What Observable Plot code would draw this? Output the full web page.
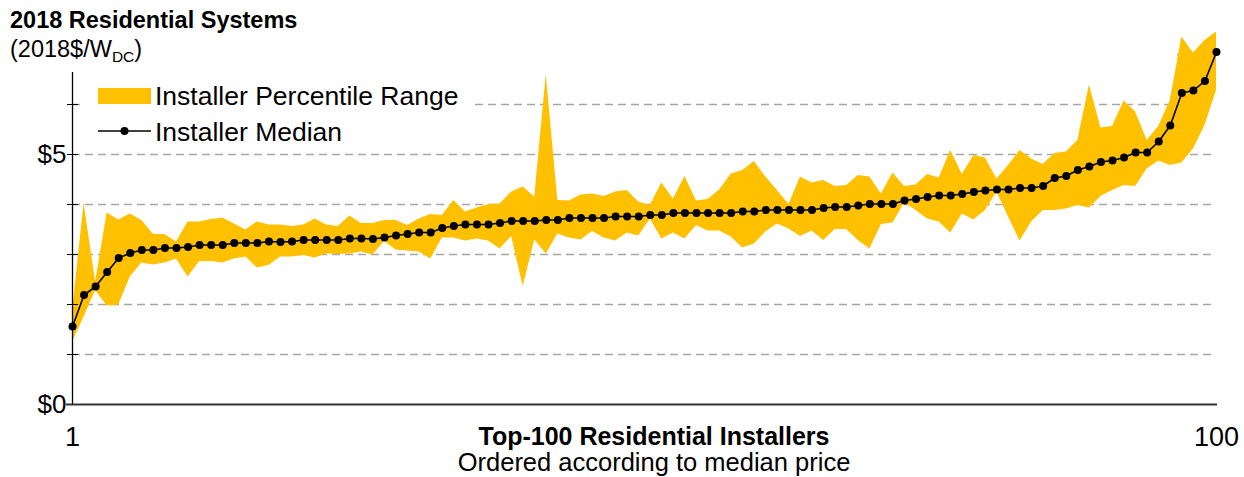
<!DOCTYPE html>
<html>
<head>
<meta charset="utf-8">
<script src="https://cdn.jsdelivr.net/npm/d3@7"></script>
<script src="https://cdn.jsdelivr.net/npm/@observablehq/plot@0.6"></script>
<style>
  html, body { margin: 0; padding: 0; background: #fff; }
  #chart { position: relative; width: 1244px; height: 477px; overflow: hidden; }
  svg { font-family: "Liberation Sans", Arial, sans-serif; }
</style>
</head>
<body>
<div id="chart"></div>
<script>
// ---- Data (2018$/W_DC), installers ordered by median price ----
const installerMedian = [
  1.56, 2.19, 2.36, 2.65, 2.93, 3.03, 3.09, 3.09, 3.13, 3.13,
  3.15, 3.19, 3.19, 3.19, 3.23, 3.23, 3.23, 3.26, 3.25, 3.26,
  3.29, 3.29, 3.29, 3.29, 3.32, 3.32, 3.31, 3.34, 3.38, 3.41,
  3.44, 3.44, 3.53, 3.57, 3.60, 3.60, 3.60, 3.63, 3.67, 3.67,
  3.67, 3.69, 3.69, 3.73, 3.73, 3.73, 3.73, 3.76, 3.76, 3.76,
  3.79, 3.79, 3.83, 3.83, 3.83, 3.83, 3.83, 3.83, 3.86, 3.86,
  3.89, 3.89, 3.89, 3.89, 3.89, 3.93, 3.95, 3.95, 3.98, 4.01,
  4.01, 4.01, 4.08, 4.11, 4.15, 4.18, 4.18, 4.21, 4.25, 4.28,
  4.30, 4.30, 4.33, 4.33, 4.37, 4.53, 4.57, 4.69, 4.76, 4.85,
  4.88, 4.94, 5.04, 5.04, 5.26, 5.58, 6.23, 6.28, 6.47, 7.05
];
const percentileHigh = [
  1.85, 4.03, 2.45, 3.83, 3.69, 3.81, 3.68, 3.40, 3.40, 3.25,
  3.65, 3.65, 3.70, 3.73, 3.61, 3.49, 3.65, 3.59, 3.59, 3.56,
  3.59, 3.71, 3.59, 3.56, 3.77, 3.62, 3.62, 3.68, 3.68, 3.58,
  3.71, 3.80, 3.78, 4.08, 3.85, 3.93, 4.00, 4.01, 4.25, 4.35,
  4.15, 6.60, 4.08, 4.07, 4.19, 4.21, 4.16, 4.25, 4.28, 4.05,
  3.98, 4.43, 4.11, 4.56, 4.07, 4.10, 4.29, 4.61, 4.68, 4.86,
  4.55, 4.28, 4.00, 4.55, 4.43, 4.48, 4.36, 4.38, 4.58, 4.55,
  4.21, 4.63, 4.36, 4.39, 4.60, 4.53, 5.08, 4.60, 4.98, 4.93,
  4.51, 4.78, 5.08, 4.91, 4.80, 5.02, 5.05, 5.28, 6.39, 5.53,
  5.56, 6.07, 5.85, 5.28, 5.56, 6.08, 7.35, 7.03, 7.28, 7.45
];
const percentileLow = [
  1.25, 1.75, 2.28, 1.97, 1.99, 2.55, 2.83, 2.79, 2.83, 2.91,
  2.55, 2.86, 2.86, 2.83, 2.91, 2.95, 2.73, 2.78, 2.95, 2.95,
  2.98, 2.93, 3.01, 3.00, 3.01, 3.05, 2.99, 3.26, 3.09, 3.07,
  3.05, 2.91, 3.33, 3.33, 3.27, 3.31, 3.27, 3.11, 3.36, 2.36,
  3.29, 3.01, 3.41, 3.33, 3.29, 3.46, 3.33, 3.27, 3.43, 3.37,
  3.71, 3.31, 3.43, 3.31, 3.58, 3.47, 3.47, 3.35, 3.13, 3.21,
  3.45, 3.61, 3.51, 3.36, 3.47, 3.28, 3.50, 3.50, 3.28, 3.11,
  3.60, 3.63, 4.03, 3.88, 3.71, 3.65, 3.43, 3.81, 3.69, 3.88,
  4.25, 3.75, 3.27, 3.65, 3.88, 3.88, 3.91, 3.98, 3.93, 4.16,
  4.28, 4.38, 4.36, 4.71, 4.87, 4.78, 4.83, 5.11, 5.58, 6.28
];
const yTickLabels = [0, 5];
const yMinorTicks = [0, 1, 2, 3, 4, 5, 6];
const gridValues = [1, 2, 3, 4, 5, 6, 7];
const xTickLabels = [1, 100];

const rows = installerMedian.map((m, k) => ({
  rank: k + 1, median: m, low: percentileLow[k], high: percentileHigh[k]
}));

// ---- Layout ----
const W = 1244, H = 477;
const mL = 72, mR = 28, mT = 29, mB = 73;
const gold = "#FFC000";
const font = "'Liberation Sans', Arial, sans-serif";

const plot = Plot.plot({
  width: W, height: H,
  marginLeft: mL, marginRight: mR, marginTop: mT, marginBottom: mB,
  style: {fontFamily: font, background: "#fff", overflow: "visible"},
  x: {domain: [1, 100], axis: null},
  y: {domain: [0, 7.5], axis: null},
  marks: [
    Plot.ruleY(gridValues, {stroke: "#a6a6a6", strokeWidth: 1.5, strokeDasharray: "8,5"}),
    Plot.areaY(rows, {x: "rank", y1: "low", y2: "high", fill: gold, curve: "linear"}),
    Plot.line(rows, {x: "rank", y: "median", stroke: "#000", strokeWidth: 1.6}),
    Plot.dot(rows, {x: "rank", y: "median", r: 4, fill: "#000", stroke: "none"}),
    Plot.ruleX([1], {y1: 0, y2: 6.64, stroke: "#000", strokeWidth: 1.3}),
    Plot.axisY({ticks: yMinorTicks, tickSize: 11, dx: 6, text: null, stroke: "#000", label: null}),
    Plot.axisY({ticks: yTickLabels, tickSize: 0, tickPadding: 6, tickFormat: d => "$" + d,
                fontSize: 26, fill: "#000", anchor: "left", label: null}),
    Plot.ruleY([0], {stroke: "#333", strokeWidth: 2, insetLeft: -6, insetRight: -1}),
    Plot.axisX({ticks: xTickLabels, tickSize: 0, tickPadding: 22, fontSize: 27, fill: "#000",
                anchor: "bottom", label: null})
  ]
});

document.getElementById("chart").appendChild(plot);

// Occluding boxes (chart title and legend boxes hide part of grid lines)
const svg = d3.select(plot);
const gridGroup = plot.querySelector('g[aria-label="rule"]');
const boxes = [
  {x: 0, y: 0, w: 1177, h: 62},
  {x: 80, y: 62, w: 395, h: 88}
];
boxes.forEach(b => {
  const r = document.createElementNS("http://www.w3.org/2000/svg", "rect");
  r.setAttribute("x", b.x); r.setAttribute("y", b.y);
  r.setAttribute("width", b.w); r.setAttribute("height", b.h);
  r.setAttribute("fill", "#fff");
  gridGroup.after(r);
});

// Titles
const txt = (x, y, s, size, weight, anchor) =>
  svg.append("text").attr("x", x).attr("y", y).attr("font-size", size)
     .attr("font-weight", weight || "normal").attr("text-anchor", anchor || "start")
     .attr("fill", "#000").attr("font-family", font).text(s);

txt(10, 28, "2018 Residential Systems", 23.5, "bold");
const sub = txt(10, 57, "(2018$/W", 23.5);
sub.append("tspan").attr("font-size", 15.5).attr("dy", 5).text("DC");
sub.append("tspan").attr("dy", -5).text(")");

// Legend
svg.append("rect").attr("x", 98).attr("y", 88).attr("width", 53).attr("height", 16).attr("fill", gold);
txt(155, 105, "Installer Percentile Range", 26.5);
svg.append("line").attr("x1", 98).attr("x2", 151).attr("y1", 131).attr("y2", 131)
   .attr("stroke", "#000").attr("stroke-width", 1.6);
svg.append("circle").attr("cx", 124.5).attr("cy", 131).attr("r", 4).attr("fill", "#000");
txt(155, 141, "Installer Median", 26.5);

// Axis titles
txt(654, 445, "Top-100 Residential Installers", 25, "bold", "middle");
txt(654, 471, "Ordered according to median price", 25.5, "normal", "middle");
</script>
</body>
</html>
